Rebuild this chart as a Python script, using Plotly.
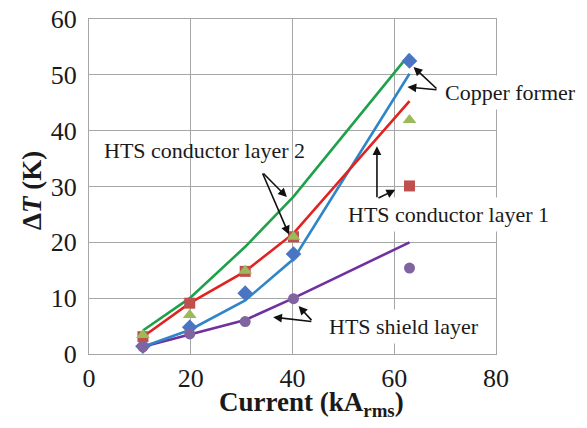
import plotly.graph_objects as go

# ---- data ----
current = [10.6, 19.8, 30.7, 40.2, 63.0]

copper_meas = [1.4, 4.8, 10.9, 17.9, 52.5]
cond1_meas = [3.1, 9.1, 14.8, 21.0, 30.1]
cond2_meas = [3.4, 7.0, 14.9, 21.0, 41.9]
shield_meas = [1.3, 3.6, 5.8, 9.9, 15.4]

copper_fit = [1.3, 4.3, 9.6, 17.0, 50.2]
cond1_fit = [3.1, 9.1, 14.8, 21.6, 45.3]
cond2_fit = [4.2, 10.0, 19.2, 28.2, 53.7]
shield_fit = [1.3, 3.5, 6.1, 10.0, 20.0]

x_ticks = [0, 20, 40, 60, 80]
y_ticks = [0, 10, 20, 30, 40, 50, 60]

FONT = "Liberation Serif"

fig = go.Figure()

# fitted / computed lines
line_specs = [
    (shield_fit, "#7030A0"),
    (copper_fit, "#2E86C8"),
    (cond1_fit, "#E0231F"),
    (cond2_fit, "#1FA04A"),
]
for ys, col in line_specs:
    fig.add_trace(go.Scatter(x=current, y=ys, mode="lines",
                             line=dict(color=col, width=2.6),
                             showlegend=False, hoverinfo="skip"))

# measured markers
marker_specs = [
    (copper_meas, "diamond", "#4A75C4", 12),
    (cond1_meas, "square", "#C0504D", 11),
    (cond2_meas, "triangle-up", "#9BBB59", 12),
    (shield_meas, "circle", "#8064A2", 11),
]
for ys, sym, col, sz in marker_specs:
    fig.add_trace(go.Scatter(x=current, y=ys, mode="markers",
                             marker=dict(symbol=sym, color=col, size=sz,
                                         line=dict(width=0)),
                             showlegend=False, hoverinfo="skip"))

annotations = []

# text labels
def label(text, x, y, bg=None):
    d = dict(text=text, x=x, y=y, xref="x", yref="y", showarrow=False,
             xanchor="left", yanchor="middle",
             font=dict(family=FONT, size=22, color="#1a1a1a"))
    if bg:
        d["bgcolor"] = bg
        d["borderpad"] = 4
    annotations.append(d)

label("Copper former", 69.0, 46.9, bg="white")
label("HTS conductor layer 1", 49.9, 24.9, bg="white")
label("HTS conductor layer 2", 2.5, 36.5)
label("HTS shield layer", 46.2, 5.0, bg="white")

# arrows (tail -> head), data coords
arrows = [
    ((68.6, 47.3), (63.8, 51.4)),
    ((68.6, 47.3), (62.6, 47.8)),
    ((56.6, 27.8), (56.6, 37.2)),
    ((56.6, 27.8), (60.2, 29.4)),
    ((34.0, 32.6), (38.9, 28.1)),
    ((34.0, 32.6), (39.3, 21.4)),
    ((44.0, 5.8), (41.2, 8.6)),
    ((44.0, 5.8), (36.2, 6.6)),
]
for (tx, ty), (hx, hy) in arrows:
    annotations.append(dict(text="", x=hx, y=hy, xref="x", yref="y",
                            ax=tx, ay=ty, axref="x", ayref="y",
                            showarrow=True, arrowhead=2, arrowsize=1.1,
                            arrowwidth=1.6, arrowcolor="#111111"))

# axis titles (screen pixel positions, converted to paper coords below)
annotations.append(dict(text="<b>Current (kA<sub>rms</sub>)</b>",
                        x=311, y=404, xref="paper", yref="paper",
                        xanchor="center", yanchor="middle",
                        showarrow=False,
                        font=dict(family=FONT, size=27, color="#1a1a1a")))
annotations.append(dict(text="<b>Δ<i>T</i> (K)</b>",
                        x=32, y=191, xref="paper", yref="paper",
                        xanchor="center", yanchor="middle",
                        showarrow=False, textangle=-90,
                        font=dict(family=FONT, size=27, color="#1a1a1a")))

# page has an 8px body margin; plot area should land at x 89..496, y 19..354
OFF = 8
W, H = 587 - OFF, 428 - OFF
L, R, T, B = 89 - OFF, 91, 19 - OFF, 74
pw, ph = W - L - R, H - T - B
for a in annotations[-2:]:
    a["x"] = (a["x"] - 89) / pw
    a["y"] = 1 - (a["y"] - 19) / ph

grid_col = "#A6A6A6"
fig.update_layout(
    width=W, height=H,
    margin=dict(l=L, r=R, t=T, b=B, autoexpand=False),
    paper_bgcolor="white", plot_bgcolor="white",
    annotations=annotations,
    xaxis=dict(range=[0, 80], tickvals=x_ticks, showgrid=True,
               gridcolor=grid_col, gridwidth=1.3, zeroline=False,
               showline=True, linecolor=grid_col, linewidth=1.3, mirror=True,
               ticks="", ticklabelstandoff=1, automargin=False,
               ticklabeloverflow="allow",
               tickfont=dict(family=FONT, size=26, color="#1a1a1a")),
    yaxis=dict(range=[0, 60], tickvals=y_ticks, showgrid=True,
               gridcolor=grid_col, gridwidth=1.3, zeroline=False,
               showline=True, linecolor=grid_col, linewidth=1.3, mirror=True,
               ticks="", ticklabelstandoff=6, automargin=False,
               ticklabeloverflow="allow",
               tickfont=dict(family=FONT, size=26, color="#1a1a1a")),
)

fig.write_html("out.html")
